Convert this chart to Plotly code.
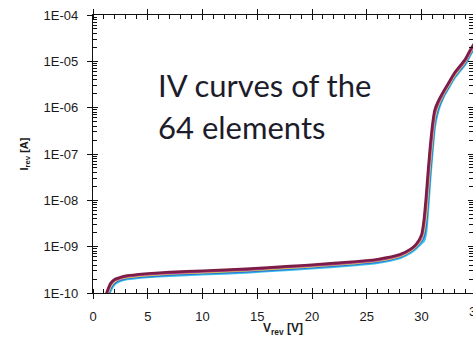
import numpy as np
import plotly.graph_objects as go

# Reverse voltage [V]
v_rev = [1.2, 1.6, 2.0, 2.5, 3.0, 4.0, 5.0, 7.0, 10, 14, 18, 20, 24, 26, 28, 29, 29.5, 30,
         30.2, 30.4, 30.6, 30.8, 31.0, 31.2, 31.5, 32, 32.5, 33, 33.5, 34, 34.5, 35]

# log10 of reverse current [A] (a few representative elements)
log_i_cyan = [-10.22, -9.95, -9.80, -9.735, -9.705, -9.675, -9.655, -9.625, -9.595, -9.555, -9.495,
              -9.465, -9.395, -9.345, -9.245, -9.13, -9.04, -8.92, -8.88, -8.70, -8.15, -7.48,
              -6.92, -6.42, -6.08, -5.77, -5.56, -5.36, -5.21, -5.06, -4.84, -4.66]
log_i_blue = [-10.16, -9.90, -9.775, -9.715, -9.685, -9.655, -9.635, -9.605, -9.575, -9.535, -9.475,
              -9.445, -9.375, -9.325, -9.225, -9.105, -9.01, -8.87, -8.78, -8.52, -7.95, -7.32,
              -6.78, -6.32, -6.02, -5.74, -5.53, -5.33, -5.18, -5.03, -4.81, -4.63]
log_i_yellow = [-10.1, -9.85, -9.74, -9.69, -9.66, -9.63, -9.61, -9.58, -9.55, -9.51, -9.45,
                -9.42, -9.35, -9.30, -9.20, -9.08, -8.98, -8.82, -8.65, -8.30, -7.70, -7.10,
                -6.60, -6.20, -5.95, -5.70, -5.50, -5.30, -5.15, -5.00, -4.78, -4.60]
log_i_magenta = [-10.06, -9.82, -9.72, -9.675, -9.645, -9.615, -9.595, -9.565, -9.535, -9.495, -9.435,
                 -9.405, -9.335, -9.285, -9.185, -9.065, -8.965, -8.78, -8.55, -8.12, -7.52, -6.95,
                 -6.48, -6.12, -5.91, -5.675, -5.475, -5.275, -5.125, -4.975, -4.755, -4.575]
log_i_maroon = [-10.02, -9.79, -9.70, -9.66, -9.63, -9.60, -9.58, -9.55, -9.52, -9.48, -9.42,
                -9.39, -9.32, -9.27, -9.17, -9.05, -8.95, -8.74, -8.45, -7.95, -7.35, -6.80,
                -6.35, -6.05, -5.87, -5.65, -5.45, -5.25, -5.10, -4.95, -4.73, -4.55]

series = [
    ("cyan", log_i_cyan, "#3cc4ee"),
    ("blue", log_i_blue, "#2f78d8"),
    ("yellow", log_i_yellow, "#e2dc3a"),
    ("magenta", log_i_magenta, "#b03aa8"),
    ("maroon", log_i_maroon, "#7c1d45"),
]

y_tickvals = [1e-10, 1e-9, 1e-8, 1e-7, 1e-6, 1e-5, 1e-4]
y_ticktext = ["1E-10", "1E-09", "1E-08", "1E-07", "1E-06", "1E-05", "1E-04"]
x_tickvals = [0, 5, 10, 15, 20, 25, 30]
x_cut_label = 35  # tick label at the cropped right edge

fig = go.Figure()
for name, logi, color in series:
    fig.add_trace(go.Scatter(
        x=v_rev, y=10 ** np.array(logi), mode="lines", name=name,
        line=dict(color=color, width=2.6, shape="spline", smoothing=0.6),
        showlegend=False, hoverinfo="skip"))

# invisible trace on overlay axes (for crossing major ticks)
fig.add_trace(go.Scatter(x=[None], y=[None], xaxis="x2", yaxis="y2", showlegend=False,
                         hoverinfo="skip"))

XR = [0, 34.7]
YR = [-10, -4]
minor_y = [m * 10.0 ** e for e in range(-10, -4) for m in range(2, 10)]
font_family = "Liberation Sans, Arial"

L, T, B = 93, 15, 44
fig.update_layout(
    width=473, height=337,
    margin=dict(l=L, r=0, t=T, b=B, autoexpand=False),
    paper_bgcolor="white", plot_bgcolor="white",
    xaxis=dict(
        range=XR, tickmode="array", tickvals=x_tickvals, automargin=False,
        ticks="outside", ticklen=5, tickwidth=1.3, tickcolor="#111",
        showline=True, linecolor="#111", linewidth=1.3, mirror="ticks",
        showgrid=False, zeroline=False,
        tickfont=dict(family=font_family, size=13, color="#1a1a1a"),
        ticklabelstandoff=6,
        minor=dict(ticks="inside", ticklen=4, tickwidth=1, tickcolor="#111", dtick=1, showgrid=False),
        title=dict(text="<b>V<sub>rev</sub> [V]</b>", standoff=9,
                   font=dict(family=font_family, size=12, color="#1a1a1a")),
    ),
    yaxis=dict(
        type="log", range=YR, tickmode="array", tickvals=y_tickvals, ticktext=y_ticktext,
        automargin=False,
        ticks="outside", ticklen=5, tickwidth=1.3, tickcolor="#111",
        showline=True, linecolor="#111", linewidth=1.3, mirror="ticks",
        showgrid=False, zeroline=False,
        tickfont=dict(family=font_family, size=13, color="#1a1a1a"), ticklabelstandoff=6,
        minor=dict(ticks="inside", ticklen=4, tickwidth=1, tickcolor="#111",
                   tickmode="array", tickvals=minor_y, showgrid=False),
        title=dict(text="<b>I<sub>rev</sub> [A]</b>", standoff=12,
                   font=dict(family=font_family, size=11, color="#1a1a1a")),
    ),
    xaxis2=dict(range=XR, overlaying="x", tickmode="array", tickvals=x_tickvals,
                ticks="inside", ticklen=5, tickwidth=1.3, tickcolor="#111", automargin=False,
                showticklabels=False, showgrid=False, zeroline=False, showline=False,
                mirror="ticks"),
    yaxis2=dict(type="log", range=YR, overlaying="y", tickmode="array", tickvals=y_tickvals,
                ticks="inside", ticklen=5, tickwidth=1.3, tickcolor="#111", automargin=False,
                showticklabels=False, showgrid=False, zeroline=False, showline=False,
                mirror="ticks"),
)

# annotation text placed by pixel baseline, converted to paper coords
pw = 473 - L
ph = 337 - T - B
annos = []
for text, px, base in [("IV curves of the", 156, 98), ("64 elements", 156, 140)]:
    annos.append(dict(
        text=text, showarrow=False, xref="paper", yref="paper",
        x=(px - L) / pw, y=1 - (base - T) / ph,
        xanchor="left", yanchor="bottom", yshift=-8,
        font=dict(family="Lato", size=31, color="#1c1c2a")))
# tick label "35" that falls at the cropped right edge (paper coords from the axis range)
annos.append(dict(
    text=str(x_cut_label), showarrow=False, xref="paper", yref="paper",
    x=(x_cut_label - XR[0]) / (XR[1] - XR[0]), y=0, yanchor="top", yshift=-9,
    xanchor="center",
    font=dict(family=font_family, size=13, color="#1a1a1a")))
fig.update_layout(annotations=annos)

fig.write_html("out.html", config={"displayModeBar": False},
               post_script="document.body.style.margin='0';document.body.style.overflow='hidden';")
